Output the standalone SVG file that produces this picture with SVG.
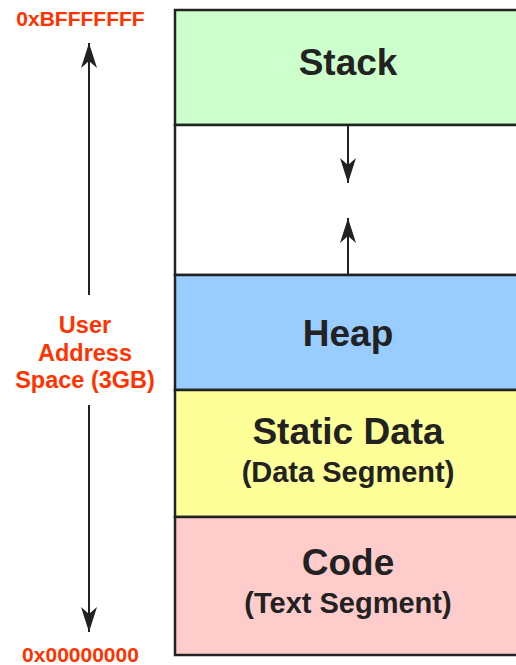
<svg xmlns="http://www.w3.org/2000/svg" width="516" height="665" viewBox="0 0 516 665">
  <defs>
    <marker id="ah" viewBox="0 0 25 16" refX="25" refY="8" markerWidth="25" markerHeight="16" markerUnits="userSpaceOnUse" orient="auto">
      <path d="M0,0 L25,8 L0,16 L7,8 Z" fill="#222"/>
    </marker>
    <style>
      .seg { stroke: #222; stroke-width: 2.5; }
      .t { font-family: "Liberation Sans", Arial, sans-serif; font-weight: bold; fill: #222; text-anchor: middle; }
      .big { font-size: 37px; }
      .sub { font-size: 29px; }
      .red { font-family: "Liberation Sans", Arial, sans-serif; font-weight: bold; fill: #FF3300; text-anchor: middle; }
      .conn { stroke: #222; stroke-width: 2; fill: none; marker-end: url(#ah); }
    </style>
  </defs>
  <rect width="516" height="665" fill="#fff"/>
  <g id="stack">
    <rect class="seg" x="175" y="10" width="345" height="115" fill="#CCFFCC"/>
    <text class="t big" x="348" y="75">Stack</text>
  </g>
  <g id="free">
    <rect class="seg" x="175" y="125" width="345" height="150" fill="#FFFFFF"/>
  </g>
  <g id="heap">
    <rect class="seg" x="175" y="275" width="345" height="115" fill="#99CCFF"/>
    <text class="t big" x="348" y="346">Heap</text>
  </g>
  <g id="static">
    <rect class="seg" x="175" y="390" width="345" height="127" fill="#FFFF99"/>
    <text class="t big" x="348" y="444">Static Data</text>
    <text class="t sub" x="348" y="482">(Data Segment)</text>
  </g>
  <g id="code">
    <rect class="seg" x="175" y="517" width="345" height="138" fill="#FFCCCC"/>
    <text class="t big" x="348" y="575">Code</text>
    <text class="t sub" x="348" y="613">(Text Segment)</text>
  </g>
  <g id="labels">
    <text class="red" x="80.5" y="26" font-size="21">0xBFFFFFFF</text>
    <text class="red" x="85" y="333" font-size="23.5">User</text>
    <text class="red" x="85" y="360.5" font-size="23.5">Address</text>
    <text class="red" x="85" y="388" font-size="23.5">Space (3GB)</text>
    <text class="red" x="80.5" y="662" font-size="21">0x00000000</text>
  </g>
  <g id="connectors">
    <line class="conn" x1="89" y1="295" x2="89" y2="43"/>
    <line class="conn" x1="89" y1="405" x2="89" y2="632"/>
    <line class="conn" x1="348" y1="125" x2="348" y2="183"/>
    <line class="conn" x1="348" y1="275" x2="348" y2="218"/>
  </g>
</svg>
